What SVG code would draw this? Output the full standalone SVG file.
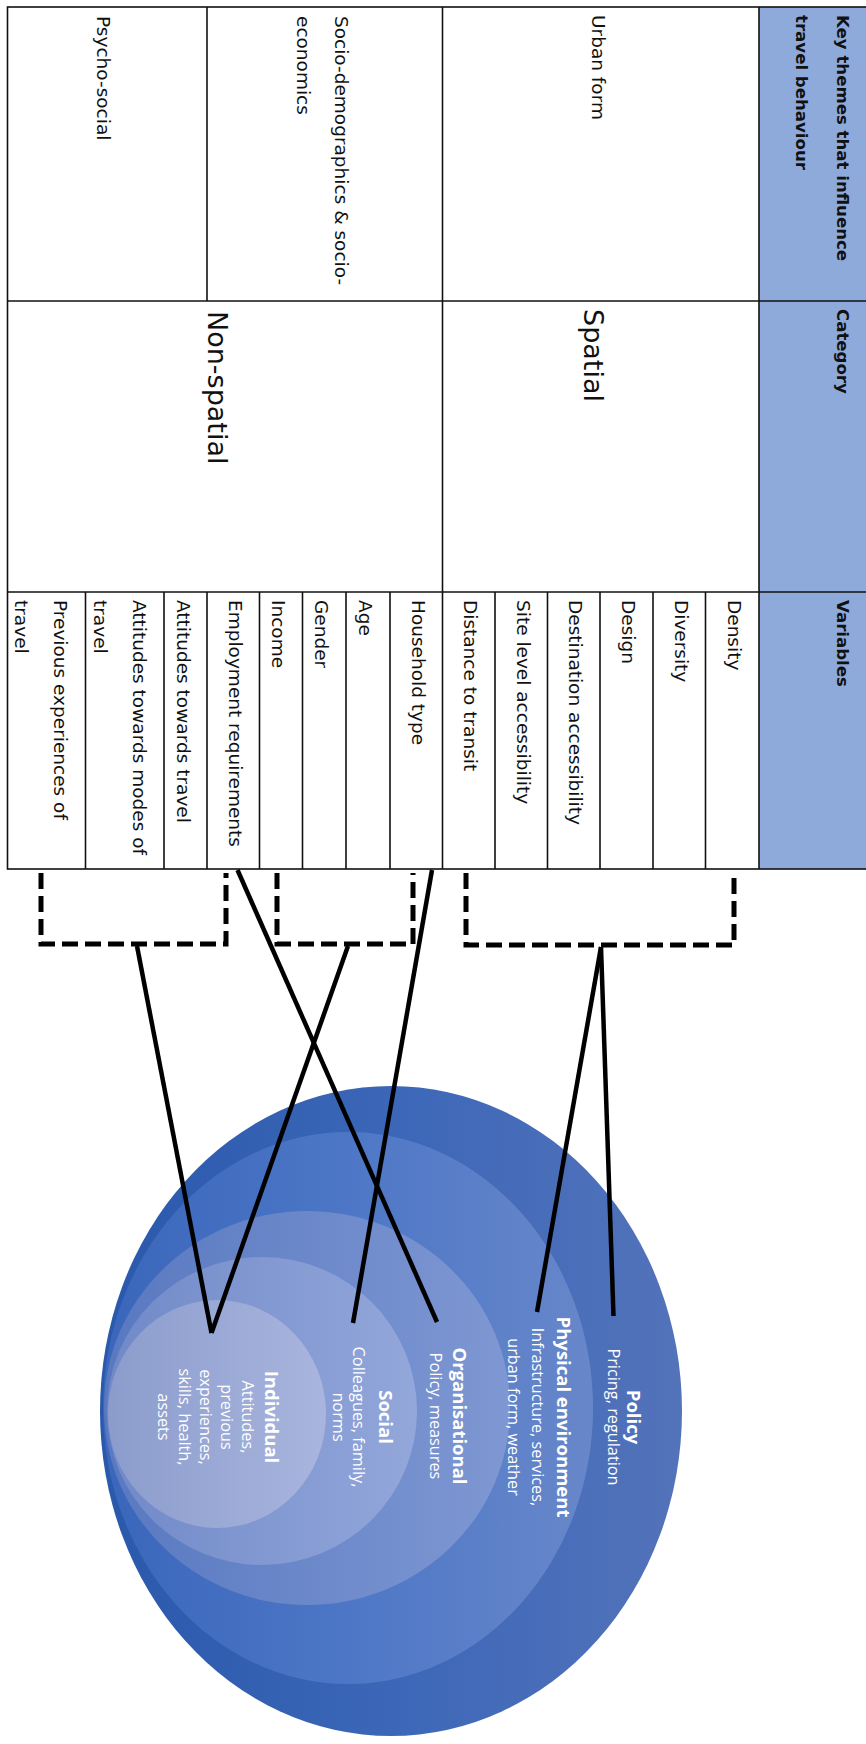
<svg xmlns="http://www.w3.org/2000/svg" width="866" height="1744" viewBox="0 0 866 1744">
  <defs>
    <style>
      .grid { stroke: #111; stroke-width: 1.6; fill: none; }
      .hdr { fill: #8eaadb; }
      .th { font-family: "DejaVu Sans", Verdana, sans-serif; font-weight: bold; font-size: 16.6px; fill: #111; }
      .tb { font-family: "DejaVu Sans", Verdana, sans-serif; font-size: 18.5px; fill: #111; }
      .cat { font-family: "DejaVu Sans", Verdana, sans-serif; font-size: 27px; fill: #111; }
      .rt { font-family: "Open Sans", "Noto Sans", sans-serif; fill: #ffffff; text-anchor: middle; }
      .rb { font-weight: bold; font-size: 18.5px; }
      .rr { font-size: 16.3px; }
      .dash { fill: none; stroke: #000; stroke-width: 5; stroke-dasharray: 16 7; }
      .link { fill: none; stroke: #000; stroke-width: 4.5; }
    </style>
    <linearGradient id="g1" x1="0" y1="0" x2="1" y2="0">
      <stop offset="0" stop-color="#2a58ab"/>
      <stop offset="0.5" stop-color="#3c67b8"/>
      <stop offset="1" stop-color="#5373ba"/>
    </linearGradient>
    <linearGradient id="g2" x1="0" y1="0" x2="1" y2="0">
      <stop offset="0" stop-color="#3a66bb"/>
      <stop offset="0.5" stop-color="#4d77c6"/>
      <stop offset="1" stop-color="#6887ca"/>
    </linearGradient>
    <linearGradient id="g3" x1="0" y1="0" x2="1" y2="0">
      <stop offset="0" stop-color="#5878c0"/>
      <stop offset="1" stop-color="#7f98d3"/>
    </linearGradient>
    <linearGradient id="g4" x1="0" y1="0" x2="1" y2="0">
      <stop offset="0" stop-color="#7089c8"/>
      <stop offset="1" stop-color="#93a7da"/>
    </linearGradient>
    <linearGradient id="g5" x1="0" y1="0" x2="1" y2="0">
      <stop offset="0" stop-color="#8b9ccc"/>
      <stop offset="1" stop-color="#a9b5de"/>
    </linearGradient>
  </defs>

  <rect width="866" height="1744" fill="#ffffff"/>

  <!-- Table: header column on the right, rows read top to bottom -->
  <g id="table">
    <rect class="hdr" x="759" y="7" width="110" height="862"/>
    <g id="grid">
      <rect class="grid" x="7.5" y="7" width="862" height="862"/>
      <line class="grid" x1="759" y1="7" x2="759" y2="869"/>
      <line class="grid" x1="442.5" y1="7" x2="442.5" y2="869"/>
      <line class="grid" x1="207" y1="7" x2="207" y2="301"/>
      <line class="grid" x1="7.5" y1="301" x2="869" y2="301"/>
      <line class="grid" x1="7.5" y1="592" x2="869" y2="592"/>
      <path class="grid" d="M85.5,592V869M164,592V869M207,592V869M259.5,592V869M302.5,592V869M346,592V869M390,592V869M495,592V869M547.5,592V869M600,592V869M653,592V869M705.5,592V869"/>
    </g>

    <g id="header">
      <text class="th" transform="translate(837,15) rotate(90)">Key themes that influence</text>
      <text class="th" transform="translate(796,15) rotate(90)">travel behaviour</text>
      <text class="th" transform="translate(837,309) rotate(90)">Category</text>
      <text class="th" transform="translate(837,600) rotate(90)">Variables</text>
    </g>

    <g id="themes">
      <text class="tb" transform="translate(592,15) rotate(90)">Urban form</text>
      <text class="tb" transform="translate(335,16) rotate(90)">Socio-demographics &amp; socio-</text>
      <text class="tb" transform="translate(296.5,16) rotate(90)">economics</text>
      <text class="tb" transform="translate(97,16) rotate(90)">Psycho-social</text>
    </g>

    <g id="categories">
      <text class="cat" transform="translate(584,309) rotate(90)">Spatial</text>
      <text class="cat" transform="translate(208,311) rotate(90)">Non-spatial</text>
    </g>

    <g id="variables">
      <text class="tb" transform="translate(728,600) rotate(90)">Density</text>
      <text class="tb" transform="translate(675,600) rotate(90)">Diversity</text>
      <text class="tb" transform="translate(622,600) rotate(90)">Design</text>
      <text class="tb" transform="translate(569,600) rotate(90)">Destination accessibility</text>
      <text class="tb" transform="translate(517,600) rotate(90)">Site level accessibility</text>
      <text class="tb" transform="translate(464,600) rotate(90)">Distance to transit</text>
      <text class="tb" transform="translate(412,600) rotate(90)">Household type</text>
      <text class="tb" transform="translate(359,600) rotate(90)">Age</text>
      <text class="tb" transform="translate(315,600) rotate(90)">Gender</text>
      <text class="tb" transform="translate(272,600) rotate(90)">Income</text>
      <text class="tb" transform="translate(229,600) rotate(90)">Employment requirements</text>
      <text class="tb" transform="translate(176.5,600) rotate(90)">Attitudes towards travel</text>
      <text class="tb" transform="translate(132.5,600) rotate(90)">Attitudes towards modes of</text>
      <text class="tb" transform="translate(93.5,600) rotate(90)">travel</text>
      <text class="tb" transform="translate(54,600) rotate(90)">Previous experiences of</text>
      <text class="tb" transform="translate(15,600) rotate(90)">travel</text>
    </g>
  </g>

  <!-- Nested levels of influence -->
  <g id="rings">
    <g id="ring-policy">
      <ellipse cx="391" cy="1411" rx="291" ry="325" fill="url(#g1)"/>
    </g>
    <g id="ring-physical">
      <ellipse cx="348" cy="1408" rx="245" ry="276" fill="url(#g2)"/>
    </g>
    <g id="ring-organisational">
      <ellipse cx="307" cy="1408" rx="203" ry="197" fill="url(#g3)"/>
    </g>
    <g id="ring-social">
      <ellipse cx="262" cy="1411" rx="155" ry="154" fill="url(#g4)"/>
    </g>
    <g id="ring-individual">
      <ellipse cx="217" cy="1414" rx="109" ry="114" fill="url(#g5)"/>
    </g>

    <g id="label-policy" class="rt">
      <text class="rb" transform="translate(627,1417) rotate(90)">Policy</text>
      <text class="rr" transform="translate(608,1417) rotate(90)">Pricing, regulation</text>
    </g>
    <g id="label-physical" class="rt">
      <text class="rb" transform="translate(557,1417) rotate(90)">Physical environment</text>
      <text class="rr" transform="translate(531.5,1417) rotate(90)">Infrastructure, services,</text>
      <text class="rr" transform="translate(507.5,1417) rotate(90)">urban form, weather</text>
    </g>
    <g id="label-organisational" class="rt">
      <text class="rb" transform="translate(453,1416) rotate(90)">Organisational</text>
      <text class="rr" transform="translate(430,1416) rotate(90)">Policy, measures</text>
    </g>
    <g id="label-social" class="rt">
      <text class="rb" transform="translate(379,1417) rotate(90)">Social</text>
      <text class="rr" transform="translate(353,1417) rotate(90)">Colleagues, family,</text>
      <text class="rr" transform="translate(333,1417) rotate(90)">norms</text>
    </g>
    <g id="label-individual" class="rt">
      <text class="rb" transform="translate(265,1417) rotate(90)">Individual</text>
      <text class="rr" transform="translate(242,1417) rotate(90)">Attitudes,</text>
      <text class="rr" transform="translate(221,1417) rotate(90)">previous</text>
      <text class="rr" transform="translate(200,1417) rotate(90)">experiences,</text>
      <text class="rr" transform="translate(179,1417) rotate(90)">skills, health,</text>
      <text class="rr" transform="translate(158,1417) rotate(90)">assets</text>
    </g>
  </g>

  <!-- Brackets grouping variables and links to the levels -->
  <g id="connectors">
    <path class="dash" d="M41,873V944H226V873"/>
    <path class="dash" d="M277,873V944H413V873"/>
    <path class="dash" d="M466,873V945H734V873"/>
    <line class="link" x1="137" y1="946" x2="211.5" y2="1333"/>
    <line class="link" x1="348" y1="946" x2="211.5" y2="1333"/>
    <line class="link" x1="432" y1="870" x2="353" y2="1323"/>
    <line class="link" x1="237.5" y1="870" x2="437" y2="1322"/>
    <line class="link" x1="601" y1="947" x2="537" y2="1312"/>
    <line class="link" x1="601" y1="947" x2="613.5" y2="1316"/>
  </g>
</svg>
